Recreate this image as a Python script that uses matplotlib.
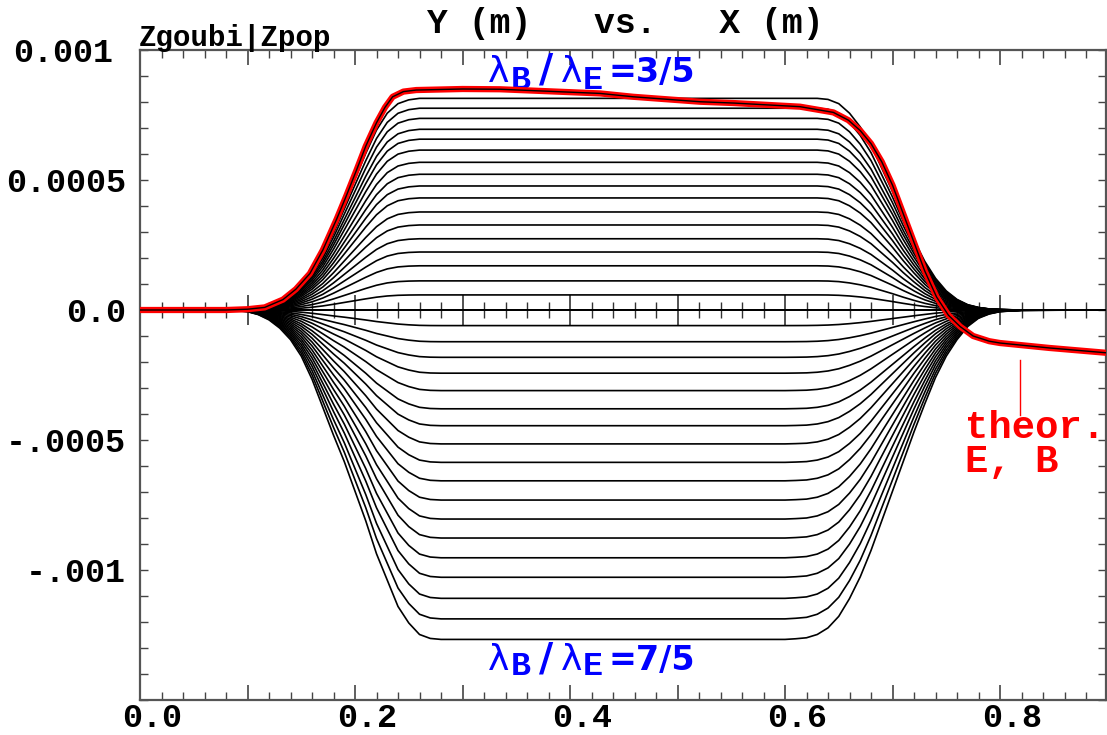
import numpy as np
import matplotlib
matplotlib.use("Agg")
import matplotlib.pyplot as plt
import matplotlib.transforms as mtransforms
from matplotlib.ticker import MultipleLocator, FixedLocator, FuncFormatter

# ---------------- data ----------------
# common abscissa for the normalised trajectory profiles (m)
prof_x = [0.00, 0.06, 0.08, 0.10, 0.11, 0.12, 0.13, 0.14, 0.15, 0.16, 0.17, 0.18, 0.19,
          0.20, 0.21, 0.22, 0.23, 0.24, 0.25, 0.26, 0.27, 0.28, 0.30, 0.60, 0.61, 0.62,
          0.63, 0.64, 0.65, 0.66, 0.67, 0.68, 0.69, 0.70, 0.71, 0.72, 0.73, 0.74, 0.75,
          0.76, 0.77, 0.78, 0.79, 0.80, 0.82, 0.90]
# normalised shape of the trajectories bending upwards
shape_up = [0.0, 0.0, 0.0, 0.004, 0.01, 0.02, 0.04, 0.07, 0.12, 0.185, 0.27, 0.38, 0.50,
            0.62, 0.74, 0.85, 0.93, 0.975, 0.993, 1.0, 1.0, 1.0, 1.0, 1.0, 1.0, 1.0,
            1.0, 0.995, 0.975, 0.93, 0.865, 0.78, 0.67, 0.56, 0.44, 0.33, 0.23, 0.15, 0.09,
            0.05, 0.025, 0.012, 0.005, 0.002, 0.0, 0.0]
# normalised shape of the trajectories bending downwards
shape_dn = [0.0, 0.0, 0.0, 0.005, 0.014, 0.03, 0.055, 0.09, 0.14, 0.21, 0.295, 0.38, 0.46,
            0.55, 0.64, 0.74, 0.82, 0.90, 0.95, 0.985, 0.997, 1.0, 1.0, 1.0, 0.998, 0.995,
            0.985, 0.965, 0.93, 0.876, 0.81, 0.73, 0.64, 0.55, 0.46, 0.37, 0.285, 0.205, 0.14,
            0.09, 0.05, 0.025, 0.012, 0.005, 0.001, 0.0]
# plateau height of each computed trajectory (m)
levels_up = [8.14e-4, 7.76e-4, 7.37e-4, 6.95e-4, 6.57e-4, 6.15e-4, 5.68e-4, 5.22e-4,
             4.77e-4, 4.31e-4, 3.77e-4, 3.27e-4, 2.74e-4, 2.23e-4, 1.70e-4, 1.12e-4,
             0.58e-4, 0.02e-5]
levels_dn = [-0.60e-4, -1.22e-4, -1.82e-4, -2.43e-4, -3.10e-4, -3.80e-4, -4.45e-4,
             -5.15e-4, -5.86e-4, -6.57e-4, -7.31e-4, -8.04e-4, -8.77e-4, -9.53e-4,
             -10.28e-4, -11.09e-4, -11.88e-4, -12.67e-4]
# theoretical E, B trajectory (red)
theor_x = [0.00, 0.08, 0.10, 0.116, 0.133, 0.145, 0.158, 0.17, 0.183, 0.192, 0.2016, 0.21,
           0.22, 0.228, 0.235, 0.245, 0.257, 0.30, 0.335, 0.428, 0.459, 0.521, 0.552,
           0.614, 0.645, 0.659, 0.67, 0.68, 0.69, 0.70, 0.71, 0.72, 0.73, 0.741, 0.752,
           0.763, 0.775, 0.79, 0.80, 0.846, 0.90]
theor_y = [0.0, 0.0, 0.03e-4, 0.1e-4, 0.4e-4, 0.8e-4, 1.4e-4, 2.3e-4, 3.5e-4, 4.4e-4,
           5.4e-4, 6.3e-4, 7.2e-4, 7.8e-4, 8.2e-4, 8.4e-4, 8.46e-4, 8.5e-4, 8.49e-4, 8.33e-4,
           8.2e-4, 8.01e-4, 7.96e-4, 7.82e-4, 7.6e-4, 7.3e-4, 6.9e-4, 6.4e-4, 5.7e-4,
           4.8e-4, 3.7e-4, 2.6e-4, 1.5e-4, 0.5e-4, -0.2e-4, -0.64e-4, -1.0e-4, -1.2e-4,
           -1.27e-4, -1.46e-4, -1.65e-4]

y_ticks = [-0.001, -0.0005, 0.0, 0.0005, 0.001]
y_tick_labels = ["-.001", "-.0005", "0.0", "0.0005", "0.001"]

title_text = "Y (m)   vs.   X (m)"
corner_text = "Zgoubi|Zpop"
ratio_top = "=3/5"
ratio_bot = "=7/5"

# ---------------- figure ----------------
MONO = "Liberation Mono"
plt.rcParams["font.family"] = MONO
plt.rcParams["font.weight"] = "bold"

fig = plt.figure(figsize=(11.07, 7.35), dpi=100)
ax = fig.add_axes([140 / 1107, 1 - 700 / 735, 966 / 1107, 650 / 735])
ax.set_xlim(0, 0.8986)
ax.set_ylim(-0.0015, 0.001)

px = np.array(prof_x)
for lv in levels_up:
    ax.plot(px, lv * np.array(shape_up), color="black", lw=1.2, zorder=3)
for lv in levels_dn:
    ax.plot(px, lv * np.array(shape_dn), color="black", lw=1.2, zorder=3)

ax.plot(theor_x, theor_y, color="red", lw=4.5, zorder=4, solid_capstyle="butt")
ax.plot(theor_x, theor_y, color="black", lw=1.0, zorder=5)

# spines
for s in ax.spines.values():
    s.set_color("#555555")
    s.set_linewidth(1.6)

# x ticks
ax.xaxis.set_major_locator(MultipleLocator(0.1))
ax.xaxis.set_minor_locator(MultipleLocator(0.02))
ax.xaxis.set_major_formatter(FuncFormatter(
    lambda v, p: f"{v:.1f}" if abs(round(v * 10) % 2) == 0 else ""))
ax.tick_params(axis="x", which="major", direction="in", length=11, width=1.2,
               color="#444444", top=True, bottom=True, labelsize=24, pad=2)
ax.tick_params(axis="x", which="minor", direction="in", length=6, width=1.0,
               color="#444444", top=True, bottom=True)

# y ticks
ax.yaxis.set_major_locator(FixedLocator(y_ticks))
ax.set_yticklabels(y_tick_labels)
ax.yaxis.set_minor_locator(MultipleLocator(0.0001))
ax.tick_params(axis="y", which="both", direction="in", length=6, width=1.0,
               color="#444444", left=True, right=True, labelsize=24, pad=10)
for lab in ax.get_xticklabels() + ax.get_yticklabels():
    lab.set_fontweight("bold")
xoff = mtransforms.ScaledTranslation(12 / 100, 0, fig.dpi_scale_trans)
for lab in ax.xaxis.get_majorticklabels():
    lab.set_transform(lab.get_transform() + xoff)
topoff = mtransforms.ScaledTranslation(-13 / 100, 0, fig.dpi_scale_trans)
ylabs = ax.yaxis.get_majorticklabels()
ylabs[-1].set_transform(ylabs[-1].get_transform() + topoff)

# zero axis with crossing ticks
zax = ax.secondary_xaxis(0.6)
for s in zax.spines.values():
    s.set_color("black")
    s.set_linewidth(1.4)
zax.xaxis.set_major_locator(MultipleLocator(0.1))
zax.xaxis.set_minor_locator(MultipleLocator(0.02))
zax.tick_params(which="major", direction="inout", length=22, width=1.2, color="#333333",
                labeltop=False, labelbottom=False)
zax.tick_params(which="minor", direction="inout", length=11, width=1.0, color="#333333",
                labeltop=False, labelbottom=False)

# texts
fig.text(625 / 1107, 1 - 33 / 735, title_text, ha="center", va="baseline",
         fontsize=25, fontweight="bold", family=MONO)
fig.text(139 / 1107, 1 - 46 / 735, corner_text, ha="left", va="baseline",
         fontsize=21, fontweight="bold", family=MONO)


def ratio_label(x0, y0, ratio, sub_drop):
    kw = dict(xy=(x0, y0), xycoords="data", textcoords="offset pixels",
              color="blue", ha="left", va="baseline", annotation_clip=False)
    ax.annotate("\u03bb", xytext=(0, 0), fontsize=26, family="DejaVu Sans",
                fontweight="normal", **kw)
    ax.annotate("B", xytext=(23, -sub_drop), fontsize=24, family=MONO,
                fontweight="bold", **kw)
    ax.annotate("/", xytext=(51, 0), fontsize=28, family="DejaVu Sans",
                fontweight="bold", **kw)
    ax.annotate("\u03bb", xytext=(73, 0), fontsize=26, family="DejaVu Sans",
                fontweight="normal", **kw)
    ax.annotate("E", xytext=(95, -sub_drop), fontsize=24, family=MONO,
                fontweight="bold", **kw)
    ax.annotate(ratio, xytext=(121, 0), fontsize=24, family="DejaVu Sans",
                fontweight="bold", **kw)


ratio_label(0.3237, 0.000877, ratio_top, 7)
ratio_label(0.3237, -0.001385, ratio_bot, 5)

ax.plot([0.8186, 0.8186], [-0.000192, -0.000404], color="red", lw=1.0)
ax.text(0.7674, -0.000492, "theor.", color="red", fontsize=28, fontweight="bold",
        family=MONO, ha="left", va="baseline", clip_on=False)
ax.text(0.7674, -0.000622, "E, B", color="red", fontsize=28, fontweight="bold",
        family=MONO, ha="left", va="baseline", clip_on=False)

fig.savefig("out.png", dpi=100)
